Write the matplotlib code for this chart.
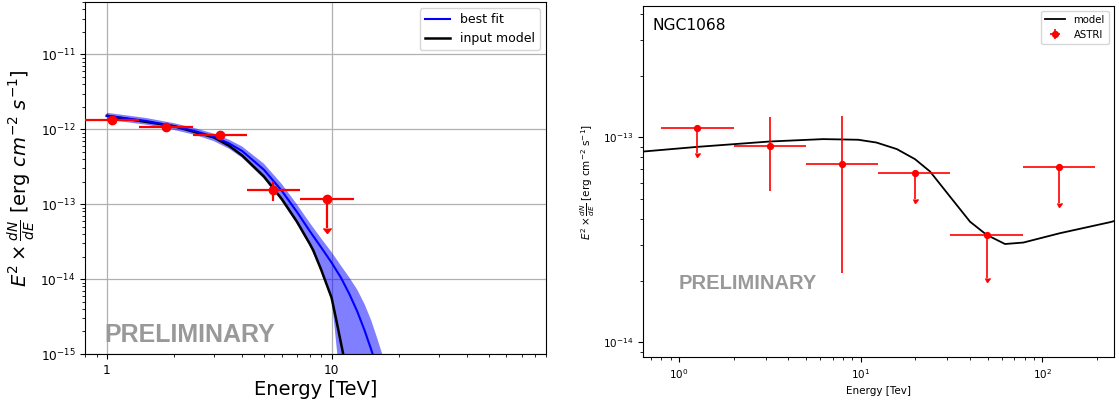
"""SED comparison: simulated fit (left) and NGC1068 ASTRI points (right)."""
import numpy as np
import matplotlib
matplotlib.use("Agg")
import matplotlib.pyplot as plt
from matplotlib import ticker

# ---- left panel: simulated spectrum ----
fit_energy = [1.0, 1.5, 2.0, 2.5, 3.0, 3.5, 4.0, 5.0, 6.0, 7.0, 8.0, 9.0,
              10.0, 11.0, 12.0, 13.0, 14.0, 15.0, 16.0, 17.0, 18.0]
fit_logflux = [-11.82, -11.89, -11.96, -12.03, -12.10, -12.19, -12.29, -12.54,
               -12.82, -13.10, -13.36, -13.58, -13.78, -13.98, -14.20, -14.43,
               -14.68, -14.94, -15.20, -15.47, -15.75]

band_energy = [1.0, 1.5, 2.0, 2.5, 3.0, 3.5, 4.0, 5.0, 6.0, 7.0, 8.0, 9.0,
               10.0, 10.6, 11.0, 12.0, 13.0, 14.0, 15.0, 16.0, 17.0, 18.0]
band_hi_log = [-11.78, -11.85, -11.92, -11.99, -12.06, -12.14, -12.23, -12.46,
               -12.73, -13.0, -13.25, -13.46, -13.64, -13.75, -13.82, -13.98,
               -14.14, -14.33, -14.55, -14.80, -15.05, -15.30]
band_lo_log = [-11.87, -11.94, -12.01, -12.08, -12.16, -12.26, -12.38, -12.66,
               -12.96, -13.26, -13.56, -13.90, -14.24, -15.0, -15.6, -17.0,
               -18.0, -19.0, -20.0, -21.0, -22.0, -23.0]

model_energy = [1.0, 2.0, 3.0, 3.5, 4.0, 5.0, 6.0, 7.0, 8.0, 8.3, 9.0, 10.0,
                10.5, 11.0, 11.26, 12.0]
model_logflux = [-11.82, -11.96, -12.11, -12.22, -12.35, -12.63, -12.93, -13.23,
                 -13.53, -13.62, -13.88, -14.25, -14.55, -14.85, -15.0, -15.4]

sim_e = [1.05, 1.835, 3.19, 5.50, 9.56]
sim_e_lo = [0.80, 1.39, 2.42, 4.19, 7.27]
sim_e_hi = [1.39, 2.42, 4.19, 7.27, 12.6]
sim_flux = [1.33e-12, 1.087e-12, 8.5e-13, 1.56e-13, 1.16e-13]
sim_flux_lo = [1.33e-12, 1.087e-12, 8.5e-13, 1.09e-13, 4.78e-14]
sim_flux_hi = [1.33e-12, 1.087e-12, 8.5e-13, 2.02e-13, 1.16e-13]
sim_ul = [False, False, False, False, True]

# ---- right panel: NGC1068 ----
ngc_model_e = [0.6, 0.634, 1.26, 3.16, 6.21, 9.69, 12.2, 15.8, 19.9, 24.1, 31.0,
               40.0, 49.3, 62.3, 78.6, 125.0, 236.0, 260.0]
ngc_model_f = [8.5e-14, 8.54e-14, 9.0e-14, 9.56e-14, 9.82e-14, 9.75e-14, 9.45e-14,
               8.78e-14, 7.84e-14, 6.82e-14, 5.15e-14, 3.88e-14, 3.35e-14, 3.02e-14,
               3.07e-14, 3.41e-14, 3.86e-14, 3.95e-14]

astri_e = [1.26, 3.16, 7.88, 19.9, 49.6, 124.0]
astri_e_lo = [0.8, 2.0, 5.0, 12.5, 31.2, 78.5]
astri_e_hi = [2.0, 5.0, 12.5, 31.2, 78.5, 195.0]
astri_flux = [1.115e-13, 9.04e-14, 7.44e-14, 6.7e-14, 3.35e-14, 7.19e-14]
astri_flux_lo = [8.39e-14, 5.5e-14, 2.17e-14, 5.0e-14, 2.05e-14, 4.78e-14]
astri_flux_hi = [1.115e-13, 1.266e-13, 1.276e-13, 6.7e-14, 3.35e-14, 7.19e-14]
astri_ul = [True, False, False, True, True, True]


def draw_points(ax, e, elo, ehi, f, flo, fhi, ul, ms, lw, capsize, label=None):
    e, elo, ehi = np.array(e), np.array(elo), np.array(ehi)
    f, flo, fhi = np.array(f), np.array(flo), np.array(fhi)
    ul = np.array(ul)
    xerr = [e - elo, ehi - e]
    yerr = [np.where(ul, 0, f - flo), np.where(ul, 0, fhi - f)]
    ax.errorbar(e, f, xerr=xerr, yerr=yerr, fmt="o", color="red", ms=ms,
                elinewidth=lw, capsize=0, label=label, zorder=5)
    # upper limits: segment down from the point, ending in a caret
    ax.errorbar(e[ul], f[ul], yerr=(f - flo)[ul], uplims=True, fmt="none",
                color="red", elinewidth=lw, capsize=capsize, zorder=5)


fig = plt.figure(figsize=(11.19, 4.07), dpi=100)

# left
ax1 = fig.add_axes([0.0760, 0.1302, 0.4120, 0.8649])
ax1.fill_between(band_energy, 10 ** np.array(band_lo_log), 10 ** np.array(band_hi_log),
                 color="blue", alpha=0.5, lw=0, zorder=2)
l_model, = ax1.plot(model_energy, 10 ** np.array(model_logflux), color="black",
                    lw=1.8, zorder=3, label="input model")
l_fit, = ax1.plot(fit_energy, 10 ** np.array(fit_logflux), color="blue", lw=1.5,
                  zorder=4, label="best fit")
draw_points(ax1, sim_e, sim_e_lo, sim_e_hi, sim_flux, sim_flux_lo, sim_flux_hi,
            sim_ul, ms=6, lw=1.6, capsize=2.6)
ax1.set_xscale("log")
ax1.set_yscale("log")
ax1.set_xlim(0.8, 90)
ax1.set_ylim(1e-15, 5e-11)
ax1.grid(True, which="major", color="#b0b0b0", lw=0.9)
ax1.xaxis.set_major_locator(ticker.FixedLocator([1, 10]))
ax1.xaxis.set_major_formatter(ticker.FixedFormatter(["1", "10"]))
ax1.xaxis.set_minor_formatter(ticker.NullFormatter())
ax1.tick_params(labelsize=8.7)
ax1.set_xlabel("Energy [TeV]", fontsize=14, labelpad=2)
ax1.set_ylabel(r"$E^2 \times \frac{dN}{dE}$ [erg $cm^{-2}$ $s^{-1}$]", fontsize=14,
               labelpad=2)
ax1.legend(handles=[l_fit, l_model], loc="upper right", fontsize=9)
ax1.text(0.043, 0.035, "PRELIMINARY", transform=ax1.transAxes, fontsize=18,
         fontweight="bold", family="Liberation Sans", color="#999999", zorder=6)

# right
ax2 = fig.add_axes([0.5743, 0.1221, 0.4212, 0.8639])
ax2.plot(ngc_model_e, ngc_model_f, color="black", lw=1.3, label="model")
draw_points(ax2, astri_e, astri_e_lo, astri_e_hi, astri_flux, astri_flux_lo,
            astri_flux_hi, astri_ul, ms=4.2, lw=1.2, capsize=1.8, label="ASTRI")
ax2.set_xscale("log")
ax2.set_yscale("log")
ax2.set_xlim(0.63, 248)
ax2.set_ylim(8.45e-15, 4.4e-13)
ax2.tick_params(labelsize=7.5)
ax2.set_xlabel("Energy [Tev]", fontsize=7.5)
ax2.set_ylabel(r"$E^2 \times \frac{dN}{dE}$ [erg cm$^{-2}$ s$^{-1}$]", fontsize=7.5)
ax2.legend(loc="upper right", fontsize=7.3)
ax2.text(0.02, 0.93, "NGC1068", transform=ax2.transAxes, fontsize=11.2)
ax2.text(0.0755, 0.193, "PRELIMINARY", transform=ax2.transAxes, fontsize=14.5,
         fontweight="bold", family="Liberation Sans", color="#999999")

fig.savefig("out.png", dpi=100)
